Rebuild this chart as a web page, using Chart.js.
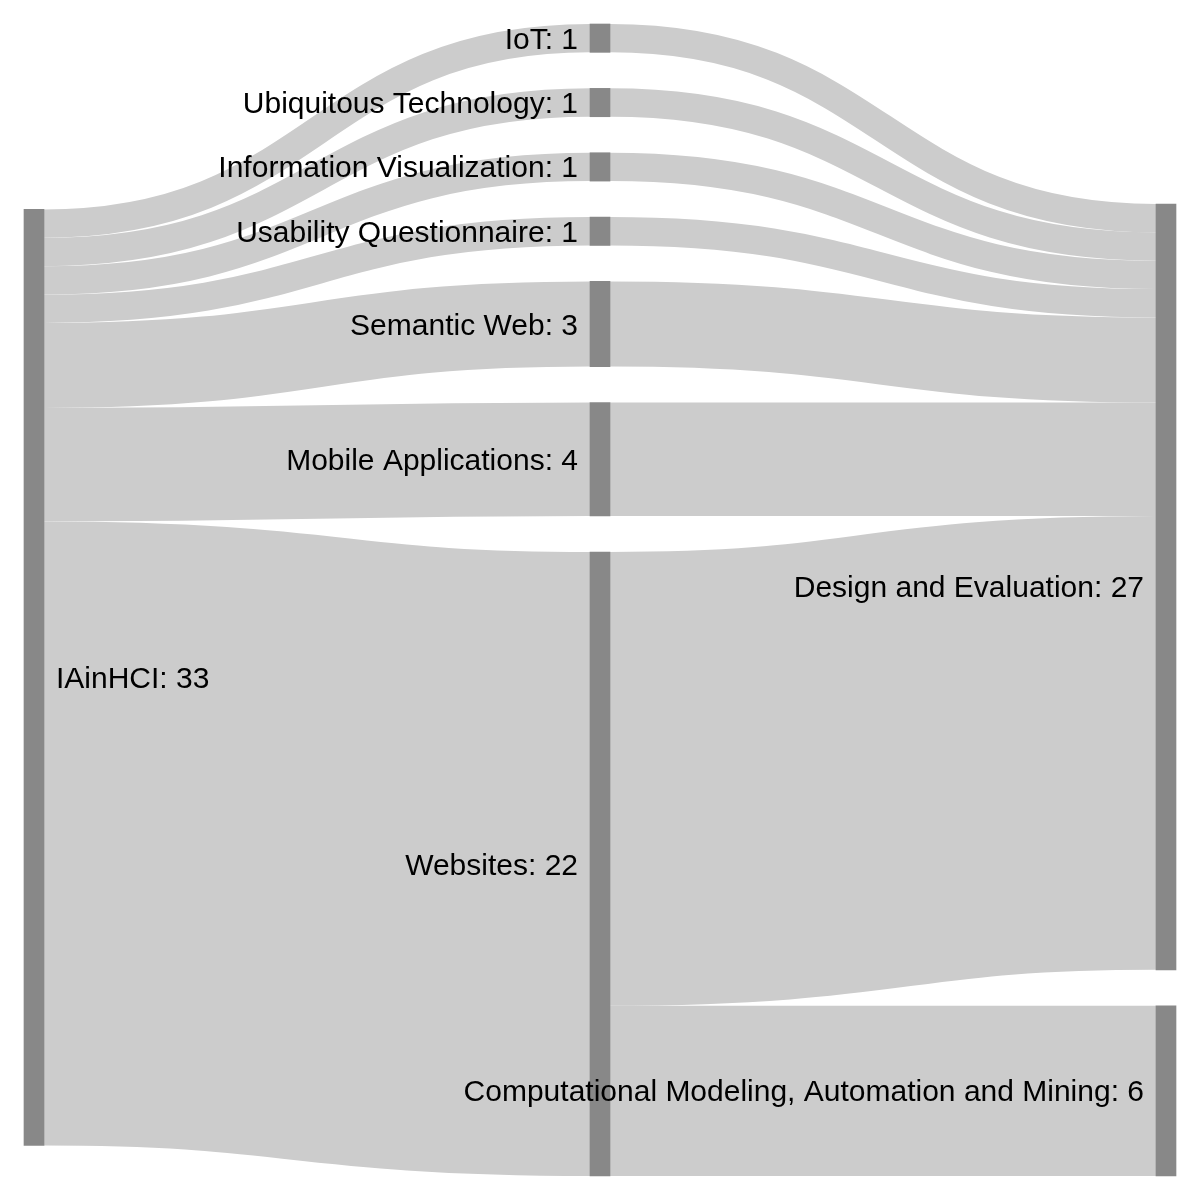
<!DOCTYPE html>
<html>
<head>
<meta charset="utf-8">
<script src="https://cdn.jsdelivr.net/npm/chart.js@4/dist/chart.umd.min.js"></script>
<style>
  html, body { margin: 0; background: #fff; }
  #wrap { width: 1200px; height: 1200px; }
</style>
</head>
<body>
<div id="wrap"><canvas id="sankey"></canvas></div>
<script>
// nodes and flows
const nodeNames = [
  'IAinHCI',
  'IoT', 'Ubiquitous Technology', 'Information Visualization', 'Usability Questionnaire',
  'Semantic Web', 'Mobile Applications', 'Websites',
  'Design and Evaluation', 'Computational Modeling, Automation and Mining'
];
const linkSources = [
  'IAinHCI', 'IAinHCI', 'IAinHCI', 'IAinHCI', 'IAinHCI', 'IAinHCI', 'IAinHCI',
  'IoT', 'Ubiquitous Technology', 'Information Visualization', 'Usability Questionnaire',
  'Semantic Web', 'Mobile Applications', 'Websites', 'Websites'
];
const linkTargets = [
  'IoT', 'Ubiquitous Technology', 'Information Visualization', 'Usability Questionnaire',
  'Semantic Web', 'Mobile Applications', 'Websites',
  'Design and Evaluation', 'Design and Evaluation', 'Design and Evaluation', 'Design and Evaluation',
  'Design and Evaluation', 'Design and Evaluation', 'Design and Evaluation',
  'Computational Modeling, Automation and Mining'
];
const linkValues = [1, 1, 1, 1, 3, 4, 22, 1, 1, 1, 1, 3, 4, 16, 6];

const W = 1200, H = 1200;
const MARGIN = 24, NODE_W = 20, NODE_PAD = 36, LABEL_GAP = 12;
const NODE_COLOR = '#888888', LINK_COLOR = '#cccccc';
const FONT = '30px "Liberation Sans", Arial, Helvetica, sans-serif';

// small sankey layout (d3-sankey style), all in scale units
const nodes = nodeNames.map(name => ({ name, inLinks: [], outLinks: [], depth: 0 }));
const byName = {};
nodes.forEach(n => byName[n.name] = n);
const links = linkValues.map((v, i) => {
  const l = { source: byName[linkSources[i]], target: byName[linkTargets[i]], value: v };
  l.source.outLinks.push(l);
  l.target.inLinks.push(l);
  return l;
});
const sum = (arr) => arr.reduce((a, l) => a + l.value, 0);
nodes.forEach(n => n.value = Math.max(sum(n.inLinks), sum(n.outLinks)));

let changed = true;
while (changed) {
  changed = false;
  links.forEach(l => {
    if (l.target.depth < l.source.depth + 1) { l.target.depth = l.source.depth + 1; changed = true; }
  });
}
const maxDepth = Math.max(...nodes.map(n => n.depth));
nodes.forEach(n => { if (!n.outLinks.length) n.depth = maxDepth; });

const columns = [];
nodes.forEach(n => (columns[n.depth] = columns[n.depth] || []).push(n));

const yTop = MARGIN, yBottom = H - MARGIN;
const colKy = columns.map(c => (yBottom - yTop - (c.length - 1) * NODE_PAD) / sum(c));
const ky = Math.min(...colKy);
const fixedCol = colKy.indexOf(ky);
const colStep = (W - 2 * MARGIN - NODE_W) / maxDepth;

nodes.forEach(n => {
  n.x0 = MARGIN + n.depth * colStep;
  n.x1 = n.x0 + NODE_W;
  n.h = n.value * ky;
});
links.forEach(l => l.width = l.value * ky);

let yy = yTop;
columns[fixedCol].forEach(n => { n.y0 = yy; n.y1 = yy + n.h; yy = n.y1 + NODE_PAD; });

function resolve(col) {
  col.sort((a, b) => a.y0 - b.y0);
  let y = yTop;
  col.forEach(n => { if (n.y0 < y) { n.y0 = y; n.y1 = y + n.h; } y = n.y1 + NODE_PAD; });
  y = yBottom;
  for (let i = col.length - 1; i >= 0; i--) {
    const n = col[i];
    if (n.y1 > y) { n.y1 = y; n.y0 = y - n.h; }
    y = n.y0 - NODE_PAD;
  }
}

columns.map((c, i) => i)
  .filter(i => i !== fixedCol)
  .sort((a, b) => Math.abs(a - fixedCol) - Math.abs(b - fixedCol))
  .forEach(ci => {
    const col = columns[ci];
    col.forEach(n => {
      let s = 0, w = 0;
      n.inLinks.concat(n.outLinks).forEach(l => {
        const other = l.source === n ? l.target : l.source;
        if (other.y0 !== undefined) { s += (other.y0 + other.y1) / 2 * l.value; w += l.value; }
      });
      const c = w ? s / w : (yTop + yBottom) / 2;
      n.y0 = c - n.h / 2;
      n.y1 = n.y0 + n.h;
    });
    resolve(col);
  });

nodes.forEach(n => {
  n.outLinks.sort((a, b) => a.target.y0 - b.target.y0);
  n.inLinks.sort((a, b) => a.source.y0 - b.source.y0);
  let y = n.y0;
  n.outLinks.forEach(l => { l.y0 = y + l.width / 2; y += l.width; });
  y = n.y0;
  n.inLinks.forEach(l => { l.y1 = y + l.width / 2; y += l.width; });
});

const sankeyLinks = {
  id: 'sankeyLinks',
  beforeDatasetsDraw(chart) {
    const { ctx, scales: { x, y } } = chart;
    ctx.save();
    ctx.strokeStyle = LINK_COLOR;
    ctx.lineCap = 'butt';
    links.forEach(l => {
      const xa = x.getPixelForValue(l.source.x1), xb = x.getPixelForValue(l.target.x0);
      const ya = y.getPixelForValue(l.y0), yb = y.getPixelForValue(l.y1);
      const xm = (xa + xb) / 2;
      ctx.lineWidth = Math.abs(y.getPixelForValue(l.width) - y.getPixelForValue(0));
      ctx.beginPath();
      ctx.moveTo(xa, ya);
      ctx.bezierCurveTo(xm, ya, xm, yb, xb, yb);
      ctx.stroke();
    });
    ctx.restore();
  }
};

// first column labelled on the right, all others on the left of the node
const sankeyLabels = {
  id: 'sankeyLabels',
  afterDatasetsDraw(chart) {
    const { ctx, scales: { x, y } } = chart;
    ctx.save();
    ctx.font = FONT;
    ctx.fillStyle = '#000';
    ctx.textBaseline = 'alphabetic';
    nodes.forEach(n => {
      const cy = y.getPixelForValue((n.y0 + n.y1) / 2) + 30 * 0.35;
      const right = n.depth === 0;
      ctx.textAlign = right ? 'left' : 'right';
      const tx = right ? x.getPixelForValue(n.x1) + LABEL_GAP : x.getPixelForValue(n.x0) - LABEL_GAP;
      ctx.fillText(n.name + ': ' + n.value, tx, cy);
    });
    ctx.restore();
  }
};

new Chart(document.getElementById('sankey'), {
  type: 'bar',
  data: {
    datasets: [{
      data: nodes.map(n => ({ x: (n.x0 + n.x1) / 2, y: [n.y0, n.y1] })),
      backgroundColor: NODE_COLOR,
      borderWidth: 0,
      barThickness: NODE_W
    }]
  },
  options: {
    responsive: true,
    maintainAspectRatio: false,
    animation: false,
    layout: { padding: 0 },
    scales: {
      x: { type: 'linear', min: 0, max: W, display: false, offset: false },
      y: { type: 'linear', min: 0, max: H, reverse: true, display: false }
    },
    plugins: { legend: { display: false }, tooltip: { enabled: false } }
  },
  plugins: [sankeyLinks, sankeyLabels]
});
</script>
</body>
</html>
